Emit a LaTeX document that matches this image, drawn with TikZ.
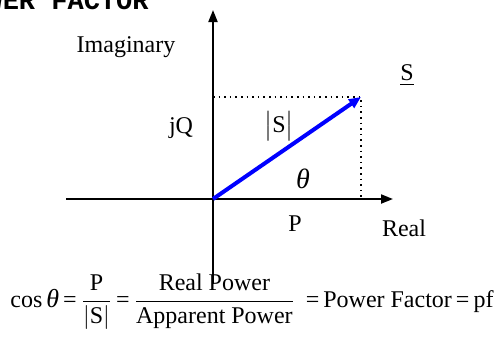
\documentclass[tikz,border=0pt]{standalone}
\usepackage{amsmath}
\usepackage{fontspec}
\setmainfont{Liberation Serif}
\newfontfamily\titlefont{Liberation Mono}
\usetikzlibrary{arrows.meta}

\begin{document}
\begin{tikzpicture}[
          x=0.5pt, y=-0.5pt,
          axis/.style={-{Triangle[length=6pt, width=4.5pt]}, line width=1pt},
          phasor/.style={-{Triangle[length=6pt, width=5pt]}, line width=2pt, blue},
          guide/.style={dotted, line width=0.8pt},
          lbl/.style={font=\fontsize{12}{14}\selectfont, inner sep=1pt}
        ]
          \clip (0,0) rectangle (502,349);
          \useasboundingbox (0,0) rectangle (502,349);

          % Title (cut off at the top)
          \node[anchor=base east, inner sep=0pt, font=\titlefont\bfseries\fontsize{13.5}{15}\selectfont] (title) at (149,9) {POWER FACTOR};

          % Axes
          \coordinate (O) at (213,199);
          \coordinate (xmin) at (66,199);
          \coordinate (xmax) at (393,199);
          \coordinate (ymin) at (213,284);
          \coordinate (ymax) at (213,10);
          \draw[axis] (xmin) -- (xmax);
          \draw[axis] (ymin) -- (ymax);

          % Phasor and projections
          \coordinate (S) at (361,97);
          \coordinate (Q) at (213,97);
          \coordinate (Pend) at (361,199);
          \draw[guide] (Q) -- (S) -- (Pend);
          \draw[phasor] (O) -- (S);

          % Labels
          \node[lbl] (imag) at (126,47) {Imaginary};
          \node[lbl] (real) at (404,228) {Real};
          \node[lbl] (Svec) at (407,75) {\underline{S}};
          \node[lbl] (jQ) at (181,128) {jQ};
          \node[lbl] (Smag) at (279,126) {$\bigl|\text{S}\bigr|$};
          \node[lbl, font=\fontsize{14}{16}\selectfont] (theta) at (303,179) {\itshape θ};
          \node[lbl] (P) at (295,224) {P};

          % Definition
          \node[lbl, anchor=west] (pf) at (8,302) {cos\,{\fontsize{13}{15}\selectfont\itshape θ}\,=\,$\dfrac{\text{P}}{|\text{S}|}$\,=\,$\dfrac{\text{Real Power}}{\text{Apparent Power}}$\;\,=\,Power Factor\,=\,pf};
        \end{tikzpicture}
\end{document}
